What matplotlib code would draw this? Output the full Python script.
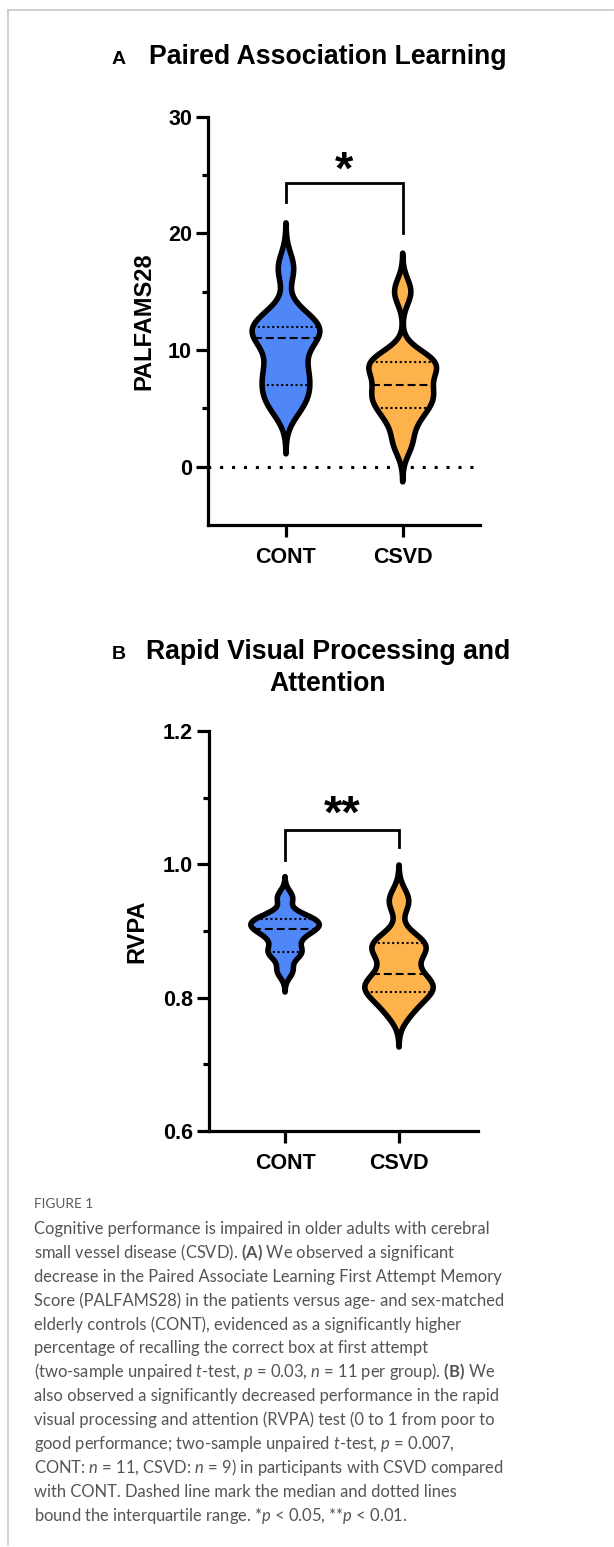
import numpy as np
import matplotlib.pyplot as plt
from matplotlib.lines import Line2D

# data
groups = ["CONT", "CSVD"]
pal_cont = [5, 6, 7, 8, 9, 11, 11, 12, 12, 13, 17]
pal_csvd = [2, 4, 5, 6, 6, 7, 8, 9, 9, 9, 15]
rvp_cont = [0.84, 0.865, 0.869, 0.885, 0.898, 0.903, 0.908, 0.912, 0.918, 0.922, 0.95]
rvp_csvd = [0.78, 0.805, 0.813, 0.82, 0.835, 0.865, 0.878, 0.885, 0.945]
pal_ticks = [0, 10, 20, 30]
rvp_ticks = [0.6, 0.8, 1.0, 1.2]
pal_bracket = [22.7, 24.3, 20.05]
rvp_bracket = [1.006, 1.051, 1.026]

blue = "#4f87f9"
orange = "#fdb24b"
W, H = 614, 1547

plt.rcParams['font.family'] = ['Liberation Sans', 'DejaVu Sans']
plt.rcParams['font.weight'] = 'bold'
plt.rcParams['mathtext.fontset'] = 'custom'
plt.rcParams['mathtext.rm'] = 'Lato:weight=normal'
plt.rcParams['mathtext.it'] = 'Lato:style=italic:weight=normal'
plt.rcParams['mathtext.bf'] = 'Lato:weight=bold'

fig = plt.figure(figsize=(W/100, H/100), dpi=100)


def kde(vals, h, cut=3.0):
    v = np.asarray(vals, float)
    y = np.linspace(v.min() - cut*h, v.max() + cut*h, 500)
    d = np.exp(-0.5*((y[:, None] - v[None, :])/h)**2).sum(1)
    return y, d/d.max()


def violin(ax, pos, vals, h, color, half):
    y, d = kde(vals, h)
    w = d*half
    xs = np.concatenate([pos - w, (pos + w)[::-1]])
    ys = np.concatenate([y, y[::-1]])
    ax.fill(xs, ys, facecolor=color, edgecolor='black', lw=4, joinstyle='round', zorder=3)
    q1, med, q3 = np.percentile(vals, [25, 50, 75], method='weibull')
    for q, ls in [(q1, (0, (1, 1.3))), (med, (0, (3.8, 1.9))), (q3, (0, (1, 1.3)))]:
        hw = np.interp(q, y, w)
        ax.plot([pos - hw, pos + hw], [q, q], color='black', ls=ls, lw=1.5, zorder=4)


def setup(ax, ticks, ylabel, lx):
    ax.spines[['top', 'right']].set_visible(False)
    for s in ['left', 'bottom']:
        ax.spines[s].set_linewidth(2.3)
    ax.set_yticks(ticks)
    ax.set_xticks([1, 2])
    ax.set_xticklabels(groups)
    ax.tick_params(axis='y', which='major', length=8.5, width=2.3, labelsize=15.5, pad=3)
    ax.tick_params(axis='y', which='minor', length=4.5, width=2.3)
    ax.tick_params(axis='x', length=8.5, width=2.3, labelsize=15.5, pad=7)
    ax.set_ylabel(ylabel, fontsize=17, fontweight='bold')
    ax.yaxis.set_label_coords(lx, 0.5)


def bracket(ax, b, stars, sy):
    ax.plot([1, 1, 2, 2], [b[0], b[1], b[1], b[2]], color='black', lw=2, zorder=5,
            solid_joinstyle='miter', clip_on=False)
    ax.text(1.5, sy, stars, ha='center', va='baseline', fontsize=34, fontweight='bold',
            clip_on=False)


# panel A
axA = fig.add_axes([208/W, 1 - 525/H, 272/W, 408.3/H])
axA.set_xlim(0.332, 2.662)
axA.set_ylim(-5, 30)
axA.set_yticks([5, 15, 25], minor=True)
axA.axhline(0, color='black', lw=2.2, ls=(4, (1, 2.9)), zorder=2)
violin(axA, 1, pal_cont, 1.3, blue, 0.29)
violin(axA, 2, pal_csvd, 1.1, orange, 0.29)
setup(axA, pal_ticks, "PALFAMS28", -0.195)
bracket(axA, pal_bracket, "*", 24.25)

# panel B
axB = fig.add_axes([209/W, 1 - 1131/H, 269/W, 400/H])
axB.set_xlim(0.333, 2.693)
axB.set_ylim(0.6, 1.2)
axB.set_yticks([0.7, 0.9, 1.1], minor=True)
violin(axB, 1, rvp_cont, 0.0105, blue, 0.30)
violin(axB, 2, rvp_csvd, 0.018, orange, 0.30)
setup(axB, rvp_ticks, "RVPA", -0.227)
axB.set_yticklabels([f"{t:.1f}" for t in rvp_ticks])
bracket(axB, rvp_bracket, "**", 1.055)

# titles
fig.text(112/W, 1 - 64/H, "A", fontsize=14, fontweight='bold', va='baseline')
fig.text(328/W, 1 - 64/H, "Paired Association Learning", fontsize=19.2, fontweight='bold',
         ha='center', va='baseline')
fig.text(112/W, 1 - 659/H, "B", fontsize=14, fontweight='bold', va='baseline')
fig.text(328/W, 1 - 659/H, "Rapid Visual Processing and", fontsize=19.2, fontweight='bold',
         ha='center', va='baseline')
fig.text(328/W, 1 - 691/H, "Attention", fontsize=19.2, fontweight='bold',
         ha='center', va='baseline')

# caption
caption_lines = [
    "Cognitive performance is impaired in older adults with cerebral",
    r"small vessel disease (CSVD). $\mathbf{(A)}$ We observed a significant",
    "decrease in the Paired Associate Learning First Attempt Memory",
    "Score (PALFAMS28) in the patients versus age- and sex-matched",
    "elderly controls (CONT), evidenced as a significantly higher",
    "percentage of recalling the correct box at first attempt",
    r"(two-sample unpaired $\mathit{t}$-test, $\mathit{p}$ = 0.03, $\mathit{n}$ = 11 per group). $\mathbf{(B)}$ We",
    "also observed a significantly decreased performance in the rapid",
    "visual processing and attention (RVPA) test (0 to 1 from poor to",
    r"good performance; two-sample unpaired $\mathit{t}$-test, $\mathit{p}$ = 0.007,",
    r"CONT: $\mathit{n}$ = 11, CSVD: $\mathit{n}$ = 9) in participants with CSVD compared",
    "with CONT. Dashed line mark the median and dotted lines",
    r"bound the interquartile range. *$\mathit{p}$ < 0.05, **$\mathit{p}$ < 0.01.",
]
fig.text(34/W, 1 - 1207.5/H, "FIGURE 1", fontsize=9.8, family='Lato', fontweight='normal',
         color='#5a5a5a', va='baseline')
for i, line in enumerate(caption_lines):
    fig.text(34/W, 1 - (1234 + 23.9*i)/H, line, fontsize=11.9, family='Lato',
             fontweight='normal', color='#555555', va='baseline')

# page border
fig.add_artist(Line2D([7.5/W, 7.5/W], [1 - 10/H, 1 - 1545/H], color='#c8c8c8', lw=1.2))
fig.add_artist(Line2D([7.5/W, 613/W], [1 - 10/H, 1 - 10/H], color='#c8c8c8', lw=1.2))

fig.savefig("out.png", dpi=100)
